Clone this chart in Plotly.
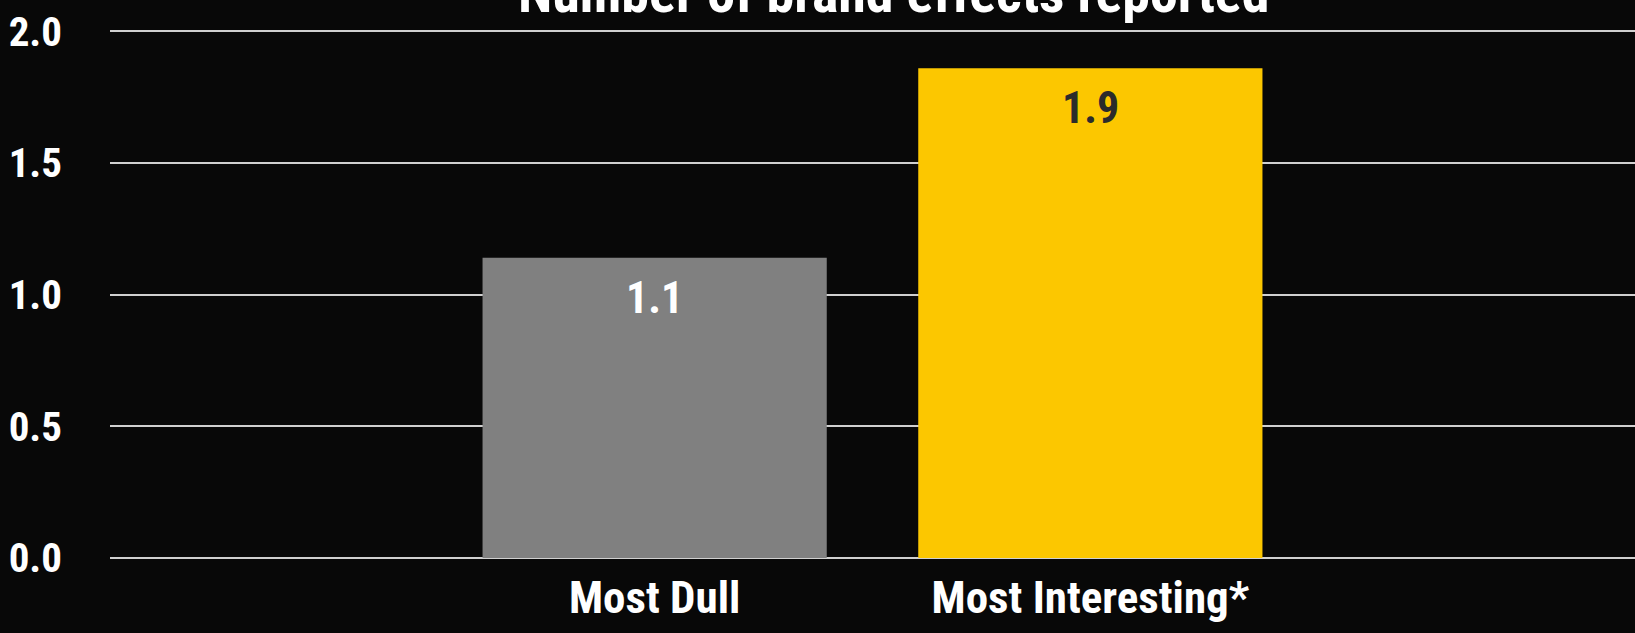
import plotly.graph_objects as go

categories = ["Most Dull", "Most Interesting*"]
values = [1.14, 1.86]
bar_colors = ["#808080", "#FCC700"]
label_colors = ["#FFFFFF", "#2B2B2B"]
title_text = "Number of brand effects reported"
y_ticks = [0.0, 0.5, 1.0, 1.5, 2.0]

FONT = ("Noto Sans ExtraCondensed, Noto Sans Condensed, Roboto Condensed, "
        "Liberation Sans Narrow, DejaVu Sans Condensed, sans-serif")

fig = go.Figure(
    go.Bar(
        x=categories,
        y=values,
        marker=dict(color=bar_colors, line=dict(width=0)),
        hoverinfo="x+y",
    )
)

# value labels placed at the top of each bar, inside
for cat, val, col in zip(categories, values, label_colors):
    fig.add_annotation(
        x=cat,
        y=val,
        xref="x",
        yref="y",
        text=f"{val:.1f}",
        showarrow=False,
        xanchor="center",
        yanchor="top",
        yshift=-12,
        font=dict(family=FONT, size=44, color=col, weight="bold"),
    )

fig.update_layout(
    width=1635,
    height=633,
    autosize=False,
    margin=dict(l=110, r=0, t=26, b=75, autoexpand=False),
    paper_bgcolor="#080808",
    plot_bgcolor="#080808",
    bargap=0.21,
    showlegend=False,
    font=dict(family=FONT, color="#FFFFFF", weight="bold"),
)

fig.update_xaxes(
    range=[-1.25, 2.25],
    showgrid=False,
    zeroline=False,
    showline=False,
    ticks="",
    automargin=False,
    tickfont=dict(family=FONT, size=45, color="#FFFFFF", weight="bold"),
    ticklabelstandoff=9,
)

fig.update_yaxes(
    range=[0, 2.02],
    tickvals=y_ticks,
    ticktext=[f"{t:.1f}" for t in y_ticks],
    showgrid=True,
    gridcolor="#D0D0D0",
    gridwidth=2,
    zeroline=True,
    zerolinecolor="#D0D0D0",
    zerolinewidth=2,
    showline=False,
    ticks="",
    automargin=False,
    tickfont=dict(family=FONT, size=41, color="#FFFFFF", weight="bold"),
    ticklabelstandoff=47,
)

fig.add_annotation(
    text=title_text,
    xref="paper",
    yref="paper",
    x=0.5136,
    y=1.0617,
    xanchor="center",
    yanchor="middle",
    showarrow=False,
    font=dict(family=FONT, size=56, color="#FFFFFF", weight="bold"),
)

fig.write_html(
    "out.html",
    config={"displayModeBar": False},
    post_script="document.body.style.margin='0';document.body.style.background='#080808';",
)
